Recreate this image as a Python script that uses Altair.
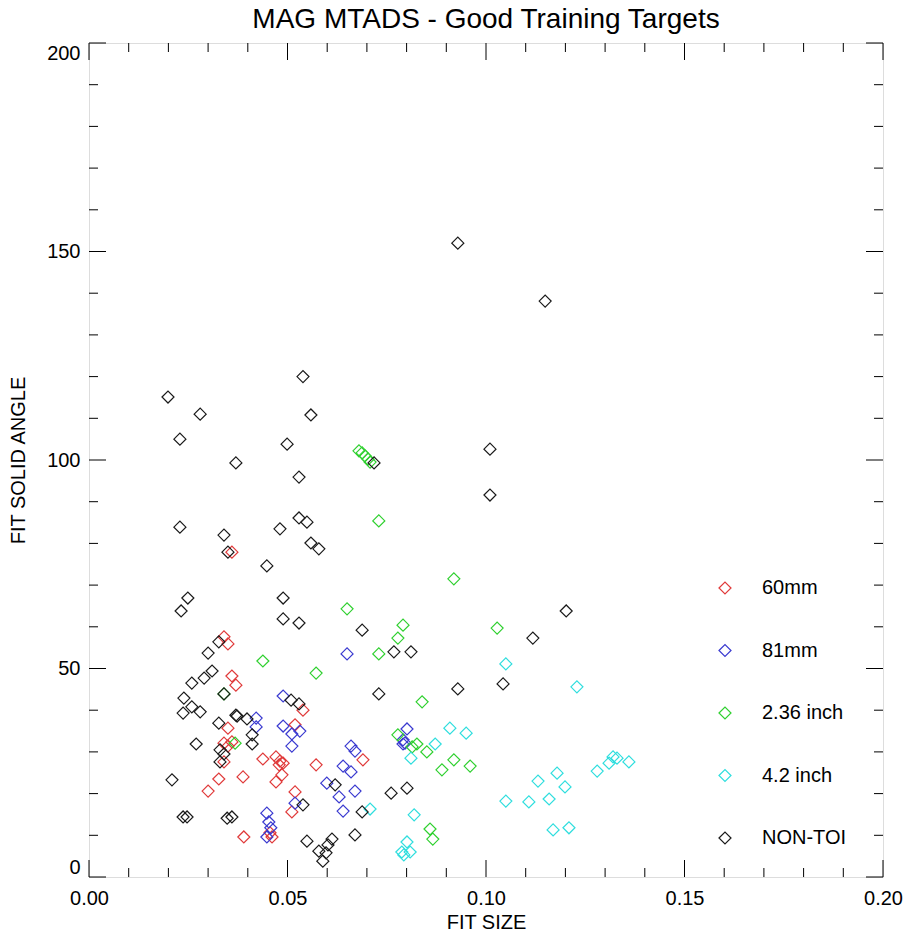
import altair as alt
import pandas as pd

# --- measured target parameters -------------------------------------------
# 60mm
size_60mm = [0.0340, 0.0350, 0.0360, 0.0370, 0.0539, 0.0519, 0.0350, 0.0340, 0.0350, 0.0360,
             0.0340, 0.0438, 0.0471, 0.0481, 0.0479, 0.0489, 0.0486, 0.0471, 0.0572, 0.0690,
             0.0388, 0.0327, 0.0300, 0.0519, 0.0511, 0.0390, 0.0456, 0.0461, 0.0360]
angle_60mm = [57.6, 55.9, 48.2, 46.0, 40.0, 36.5, 35.7, 32.1, 31.4, 32.4,
              27.6, 28.3, 28.8, 27.8, 26.9, 27.3, 24.5, 22.8, 26.9, 28.1,
              24.0, 23.5, 20.6, 20.4, 15.6, 9.6, 10.6, 9.6, 77.9]

# 81mm
size_81mm = [0.0650, 0.0489, 0.0421, 0.0421, 0.0489, 0.0511, 0.0531, 0.0511, 0.0660, 0.0670,
             0.0640, 0.0660, 0.0599, 0.0630, 0.0670, 0.0640, 0.0519, 0.0448, 0.0453, 0.0458,
             0.0448, 0.0801, 0.0791, 0.0796, 0.0791]
angle_81mm = [53.5, 43.4, 38.1, 36.0, 36.2, 34.3, 35.0, 31.4, 31.4, 30.2,
              26.6, 25.2, 22.5, 19.2, 20.6, 15.8, 17.7, 15.3, 13.2, 11.8,
              9.6, 35.5, 32.9, 32.1, 31.9]

# 2.36 inch
size_236 = [0.0680, 0.0688, 0.0695, 0.0703, 0.0708, 0.0730, 0.0650, 0.0438, 0.0572, 0.0340,
            0.0368, 0.0730, 0.0791, 0.0778, 0.0919, 0.1028, 0.0839, 0.0778, 0.0814, 0.0826,
            0.0851, 0.0889, 0.0919, 0.0960, 0.0859, 0.0866]
angle_236 = [102.2, 101.7, 101.0, 100.2, 99.5, 85.4, 64.3, 51.8, 48.9, 43.9,
             32.1, 53.5, 60.4, 57.3, 71.5, 59.7, 42.0, 34.1, 31.2, 31.9,
             30.0, 25.7, 28.1, 26.6, 11.5, 9.1]

# 4.2 inch
size_42 = [0.1050, 0.1229, 0.0909, 0.0950, 0.0872, 0.0811, 0.0819, 0.0801, 0.0788, 0.0793,
           0.0809, 0.1050, 0.1108, 0.1131, 0.1159, 0.1179, 0.1199, 0.1169, 0.1209, 0.1280,
           0.1310, 0.1320, 0.1330, 0.1360, 0.0708]
angle_42 = [51.1, 45.6, 35.7, 34.5, 31.9, 28.5, 14.9, 8.4, 6.0, 5.3,
            6.0, 18.2, 18.0, 23.0, 18.7, 24.9, 21.6, 11.3, 11.8, 25.4,
            27.3, 28.8, 28.5, 27.6, 16.3]

# clutter / non-targets of interest
size_non = [0.0929, 0.1149, 0.0199, 0.0229, 0.0280, 0.0539, 0.0559, 0.0370, 0.0499, 0.0529,
            0.1010, 0.1010, 0.0718, 0.0229, 0.0340, 0.0481, 0.0529, 0.0549, 0.0559, 0.0579,
            0.0350, 0.0448, 0.0249, 0.0232, 0.0489, 0.0489, 0.0529, 0.0688, 0.1202, 0.1118,
            0.1043, 0.0768, 0.0811, 0.0730, 0.0929, 0.0327, 0.0300, 0.0310, 0.0290, 0.0259,
            0.0239, 0.0259, 0.0237, 0.0280, 0.0370, 0.0373, 0.0327, 0.0398, 0.0411, 0.0411,
            0.0270, 0.0330, 0.0340, 0.0330, 0.0209, 0.0237, 0.0247, 0.0348, 0.0360, 0.0509,
            0.0529, 0.0620, 0.0539, 0.0549, 0.0579, 0.0589, 0.0602, 0.0612, 0.0597, 0.0688,
            0.0670, 0.0761, 0.0801, 0.0340]
angle_non = [152.0, 138.1, 115.1, 105.0, 111.0, 120.0, 110.8, 99.3, 103.8, 95.9,
             102.6, 91.6, 99.3, 83.9, 82.0, 83.5, 86.1, 85.1, 80.1, 78.7,
             77.9, 74.6, 66.9, 63.8, 66.9, 61.9, 60.9, 59.2, 63.8, 57.3,
             46.3, 54.0, 54.0, 43.9, 45.1, 56.4, 53.7, 49.4, 47.7, 46.5,
             42.9, 40.8, 39.3, 39.6, 38.8, 38.6, 36.9, 37.9, 34.1, 31.9,
             31.9, 30.5, 29.5, 27.6, 23.3, 14.4, 14.4, 14.1, 14.4, 42.4,
             41.5, 22.1, 17.3, 8.6, 6.2, 3.8, 7.7, 9.1, 5.8, 15.6,
             10.1, 20.1, 21.3, 43.9]

categories = ["60mm", "81mm", "2.36 inch", "4.2 inch", "NON-TOI"]
colors = ["#e03a3a", "#3a3ad0", "#2fd02f", "#2fdede", "#1a1a1a"]

x_major = [0.0, 0.05, 0.10, 0.15, 0.20]
x_minor = [0.01, 0.02, 0.03, 0.04, 0.06, 0.07, 0.08, 0.09,
           0.11, 0.12, 0.13, 0.14, 0.16, 0.17, 0.18, 0.19]
y_major = [0, 50, 100, 150, 200]
y_minor = [10, 20, 30, 40, 60, 70, 80, 90, 110, 120, 130, 140, 160, 170, 180, 190]

# --- layout -----------------------------------------------------------------
W, H = 794, 834
FONT = "Liberation Sans"
MAJOR, MINOR = 17, 9

series = [
    ("60mm", size_60mm, angle_60mm),
    ("81mm", size_81mm, angle_81mm),
    ("2.36 inch", size_236, angle_236),
    ("4.2 inch", size_42, angle_42),
    ("NON-TOI", size_non, angle_non),
]
rows = []
for order, (name, xs, ys) in enumerate(series):
    for xv, yv in zip(xs, ys):
        rows.append({"size": xv, "angle": yv, "target": name, "order": order})
points_df = pd.DataFrame(rows)

x_scale = alt.Scale(domain=[0, 0.2], nice=False, zero=False)
y_scale = alt.Scale(domain=[0, 200], nice=False, zero=False)

points = alt.Chart(points_df).mark_point(
    shape="diamond", filled=False, size=144, strokeWidth=1.2, opacity=1
).encode(
    x=alt.X("size:Q", scale=x_scale,
            axis=alt.Axis(title="FIT SIZE", values=x_major, format=".2f",
                          ticks=False, domain=False, grid=False,
                          labelFontSize=20, labelFont=FONT, labelColor="black",
                          labelPadding=11, labelFlush=False,
                          titleFontSize=20, titleFont=FONT, titleFontWeight="normal",
                          titleColor="black", titleY=45, titleBaseline="middle")),
    y=alt.Y("angle:Q", scale=y_scale,
            axis=alt.Axis(title="FIT SOLID ANGLE", values=y_major, format="d",
                          ticks=False, domain=False, grid=False,
                          labelFontSize=20, labelFont=FONT, labelColor="black",
                          labelPadding=9, labelFlush=True,
                          titleFontSize=20, titleFont=FONT, titleFontWeight="normal",
                          titleColor="black", titleX=-71, titleY=H / 2,
                          titleAlign="center", titleBaseline="middle", titleAngle=-90)),
    color=alt.Color("target:N",
                    scale=alt.Scale(domain=categories, range=colors),
                    legend=alt.Legend(title=None, orient="none", legendX=626, legendY=535,
                                      symbolType="diamond", symbolSize=144,
                                      symbolStrokeWidth=1.2, symbolFillColor="transparent",
                                      labelFontSize=20, labelFont=FONT, labelColor="black",
                                      labelOffset=27, rowPadding=42.5, padding=0)),
    order=alt.Order("order:Q"),
)


def tick_layer(values, field, length, side):
    df = pd.DataFrame({field: values})
    if field == "tx":
        enc = dict(x=alt.X("tx:Q", scale=x_scale))
        if side == "bottom":
            enc.update(y=alt.value(H), y2=alt.value(H - length))
        else:
            enc.update(y=alt.value(0), y2=alt.value(length))
    else:
        enc = dict(y=alt.Y("ty:Q", scale=y_scale))
        if side == "left":
            enc.update(x=alt.value(0), x2=alt.value(length))
        else:
            enc.update(x=alt.value(W), x2=alt.value(W - length))
    return alt.Chart(df).mark_rule(color="black", strokeWidth=1).encode(**enc)


ticks = [
    tick_layer(x_major, "tx", MAJOR, "bottom"),
    tick_layer(x_minor, "tx", MINOR, "bottom"),
    tick_layer(x_major, "tx", MAJOR, "top"),
    tick_layer(x_minor, "tx", MINOR, "top"),
    tick_layer(y_major, "ty", MAJOR, "left"),
    tick_layer(y_minor, "ty", MINOR, "left"),
    tick_layer(y_major, "ty", MAJOR, "right"),
    tick_layer(y_minor, "ty", MINOR, "right"),
]

chart = alt.layer(points, *ticks).properties(
    width=W,
    height=H,
    title=alt.TitleParams("MAG MTADS - Good Training Targets", fontSize=28, font=FONT,
                          fontWeight="normal", color="black", anchor="middle", offset=9),
    autosize=alt.AutoSizeParams(type="none"),
    padding={"left": 89, "top": 43, "right": 25, "bottom": 57},
).configure_view(
    stroke="black", strokeWidth=1.2
).configure(background="white")

chart.save("out.html", embed_options={"renderer": "svg", "actions": False})
